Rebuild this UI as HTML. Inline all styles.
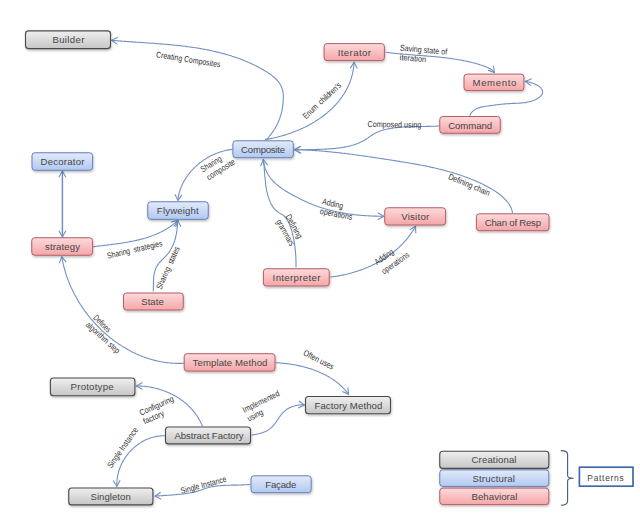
<!DOCTYPE html>
<html><head><meta charset="utf-8">
<style>
html,body{margin:0;padding:0;background:#fff;}
body{width:640px;height:519px;position:relative;overflow:hidden;font-family:"Liberation Sans",sans-serif;}
svg{position:absolute;left:0;top:0;}
path.c{fill:none;stroke:#7290c4;stroke-width:1.1;}
text.l{white-space:pre;font-family:"Liberation Sans",sans-serif;font-size:8.5px;fill:#303030;text-anchor:middle;dominant-baseline:central;}
text.bt{font-family:"Liberation Sans",sans-serif;font-size:9.6px;fill:#464646;text-anchor:middle;}
rect.p{fill:url(#gp);stroke:#b45e66;stroke-width:1;filter:url(#sh);}
rect.u{fill:url(#gu);stroke:#6580b8;stroke-width:1;filter:url(#sh);}
rect.g{fill:url(#gg);stroke:#4a4a4a;stroke-width:1.1;filter:url(#sh);}
</style></head><body>
<svg width="640" height="519" viewBox="0 0 640 519">
<defs>
<linearGradient id="gp" x1="0" y1="0" x2="0" y2="1"><stop offset="0" stop-color="#fcdadb"/><stop offset="1" stop-color="#f5a6a8"/></linearGradient>
<linearGradient id="gu" x1="0" y1="0" x2="0" y2="1"><stop offset="0" stop-color="#e3eafa"/><stop offset="1" stop-color="#b1c9f2"/></linearGradient>
<linearGradient id="gg" x1="0" y1="0" x2="0" y2="1"><stop offset="0" stop-color="#efefef"/><stop offset="1" stop-color="#c6c6c6"/></linearGradient>
<filter id="sh" x="-10%" y="-30%" width="120%" height="170%"><feDropShadow dx="0.6" dy="1.4" stdDeviation="0.9" flood-color="#000" flood-opacity="0.28"/></filter>
</defs>
<path class="c" d="M266.5 139.6 L267.2 138.8 L267.9 138.0 L268.5 137.3 L269.2 136.5 L269.8 135.7 L270.5 134.9 L271.1 134.1 L271.7 133.3 L272.3 132.4 L272.8 131.6 L273.4 130.8 L274.0 130.0 L274.5 129.1 L275.0 128.3 L275.5 127.4 L276.0 126.6 L276.5 125.7 L276.9 124.8 L277.4 123.9 L277.8 123.1 L278.2 122.2 L278.6 121.3 L279.0 120.3 L279.3 119.4 L279.7 118.5 L280.0 117.6 L280.3 116.6 L280.6 115.7 L280.9 114.7 L281.2 113.8 L281.4 112.8 L281.7 111.8 L281.9 110.8 L282.1 109.8 L282.3 108.8 L282.4 107.8 L282.6 106.8 L282.7 105.8 L282.9 104.7 L283.0 103.7 L283.1 102.6 L283.1 101.6 L283.2 100.5 L283.2 99.5 L283.3 98.4 L283.3 97.4 L283.3 96.3 L283.3 95.2 L283.2 94.2 L283.1 93.2 L283.0 92.1 L282.8 91.2 L282.6 90.2 L282.3 89.2 L282.0 88.3 L281.7 87.4 L281.3 86.5 L280.9 85.7 L280.4 84.8 L280.0 84.0 L279.4 83.2 L278.9 82.4 L278.3 81.7 L277.7 80.9 L277.1 80.2 L276.4 79.5 L275.7 78.8 L275.0 78.1 L274.3 77.5 L273.6 76.8 L272.8 76.2 L272.0 75.6 L271.2 74.9 L270.4 74.3 L269.6 73.8 L268.7 73.2 L267.9 72.6 L267.0 72.1 L266.1 71.5 L265.3 71.0 L264.4 70.5 L263.5 69.9 L262.6 69.4 L261.7 68.9 L260.8 68.4 L259.9 67.9 L259.0 67.5 L258.1 67.0 L257.2 66.5 L256.3 66.0 L255.4 65.6 L254.5 65.1 L253.5 64.7 L252.6 64.3 L251.7 63.8 L250.8 63.4 L249.9 63.0 L248.9 62.6 L248.0 62.2 L247.1 61.8 L246.2 61.4 L245.2 61.0 L244.3 60.6 L243.4 60.2 L242.4 59.9 L241.5 59.5 L240.6 59.1 L239.6 58.8 L238.7 58.4 L237.7 58.1 L236.8 57.8 L235.8 57.4 L234.9 57.1 L233.9 56.8 L233.0 56.5 L232.0 56.2 L231.1 55.8 L230.1 55.5 L229.2 55.3 L228.2 55.0 L227.2 54.7 L226.3 54.4 L225.3 54.1 L224.4 53.9 L223.4 53.6 L222.4 53.3 L221.4 53.1 L220.5 52.8 L219.5 52.6 L218.5 52.3 L217.6 52.1 L216.6 51.9 L215.6 51.6 L214.6 51.4 L213.7 51.2 L212.7 51.0 L211.7 50.7 L210.7 50.5 L209.7 50.3 L208.8 50.1 L207.8 49.9 L206.8 49.7 L205.8 49.5 L204.8 49.4 L203.8 49.2 L202.8 49.0 L201.8 48.8 L200.8 48.6 L199.9 48.5 L198.9 48.3 L197.9 48.1 L196.9 48.0 L195.9 47.8 L194.9 47.7 L193.9 47.5 L192.9 47.4 L191.9 47.2 L190.9 47.1 L189.9 47.0 L188.9 46.8 L187.9 46.7 L186.9 46.6 L185.9 46.4 L184.9 46.3 L183.9 46.2 L182.9 46.1 L181.9 45.9 L180.9 45.8 L179.9 45.7 L178.9 45.6 L177.9 45.5 L176.9 45.4 L175.9 45.3 L174.8 45.2 L173.8 45.1 L172.8 45.0 L171.8 44.9 L170.8 44.8 L169.8 44.7 L168.8 44.6 L167.8 44.5 L166.8 44.4 L165.8 44.3 L164.8 44.2 L163.8 44.2 L162.7 44.1 L161.7 44.0 L160.7 43.9 L159.7 43.8 L158.7 43.8 L157.7 43.7 L156.7 43.6 L155.7 43.5 L154.7 43.5 L153.7 43.4 L152.7 43.3 L151.6 43.2 L150.6 43.2 L149.6 43.1 L148.6 43.0 L147.6 43.0 L146.6 42.9 L145.6 42.8 L144.6 42.7 L143.6 42.7 L142.6 42.6 L141.6 42.5 L140.6 42.5 L139.6 42.4 L138.5 42.3 L137.5 42.3 L136.5 42.2 L135.5 42.1 L134.5 42.1 L133.5 42.0 L132.5 41.9 L131.5 41.9 L130.5 41.8 L129.5 41.7 L128.5 41.6 L127.5 41.6 L126.5 41.5 L125.5 41.4 L124.5 41.4 L123.5 41.3 L122.5 41.2 L121.5 41.1 L120.5 41.1 L119.5 41.0 L118.5 40.9 L117.5 40.8 L116.6 40.7 L115.6 40.6 L114.6 40.6 L113.6 40.5 L112.6 40.4 L111.6 40.3"/>
<path class="c" d="M117.89 37.36 L111.60 40.30 L117.26 44.33"/>
<path class="c" d="M264.9 139.6 L265.9 139.4 L266.8 139.3 L267.8 139.1 L268.8 138.9 L269.7 138.8 L270.7 138.6 L271.7 138.4 L272.6 138.2 L273.6 138.0 L274.6 137.7 L275.6 137.5 L276.5 137.3 L277.5 137.0 L278.5 136.8 L279.5 136.5 L280.4 136.3 L281.4 136.0 L282.4 135.7 L283.4 135.4 L284.3 135.2 L285.3 134.9 L286.3 134.6 L287.3 134.2 L288.2 133.9 L289.2 133.6 L290.2 133.2 L291.1 132.9 L292.1 132.6 L293.1 132.2 L294.0 131.8 L295.0 131.5 L295.9 131.1 L296.9 130.7 L297.8 130.3 L298.8 129.9 L299.7 129.5 L300.7 129.1 L301.6 128.6 L302.6 128.2 L303.5 127.8 L304.4 127.3 L305.3 126.9 L306.3 126.4 L307.2 125.9 L308.1 125.4 L309.0 125.0 L309.9 124.5 L310.8 124.0 L311.7 123.5 L312.6 122.9 L313.5 122.4 L314.4 121.9 L315.2 121.4 L316.1 120.8 L317.0 120.3 L317.8 119.7 L318.7 119.1 L319.5 118.6 L320.3 118.0 L321.2 117.4 L322.0 116.8 L322.8 116.2 L323.6 115.6 L324.4 115.0 L325.2 114.3 L326.0 113.7 L326.8 113.1 L327.6 112.4 L328.3 111.7 L329.1 111.1 L329.9 110.4 L330.6 109.7 L331.3 109.0 L332.1 108.4 L332.8 107.7 L333.5 106.9 L334.2 106.2 L334.9 105.5 L335.6 104.8 L336.2 104.0 L336.9 103.3 L337.5 102.5 L338.2 101.8 L338.8 101.0 L339.4 100.2 L340.0 99.4 L340.6 98.7 L341.2 97.9 L341.8 97.1 L342.4 96.2 L342.9 95.4 L343.5 94.6 L344.0 93.8 L344.5 92.9 L345.0 92.1 L345.5 91.2 L346.0 90.4 L346.5 89.5 L347.0 88.6 L347.4 87.7 L347.8 86.8 L348.3 85.9 L348.7 85.0 L349.1 84.1 L349.5 83.2 L349.8 82.3 L350.2 81.4 L350.5 80.4 L350.8 79.5 L351.2 78.5 L351.5 77.6 L351.7 76.6 L352.0 75.6 L352.3 74.6 L352.5 73.6 L352.7 72.6 L352.9 71.6 L353.1 70.6 L353.3 69.6 L353.5 68.6 L353.6 67.6 L353.7 66.5 L353.9 65.5 L354.0 64.4 L354.0 63.4 L354.1 62.3"/>
<path class="c" d="M357.28 68.47 L354.10 62.30 L350.29 68.11"/>
<path class="c" d="M385.6 52.2 L386.6 52.3 L387.6 52.5 L388.5 52.6 L389.5 52.7 L390.5 52.8 L391.5 53.0 L392.5 53.1 L393.5 53.2 L394.5 53.3 L395.5 53.4 L396.5 53.5 L397.5 53.6 L398.5 53.7 L399.5 53.8 L400.5 53.9 L401.5 54.0 L402.5 54.1 L403.5 54.2 L404.5 54.3 L405.5 54.3 L406.5 54.4 L407.6 54.5 L408.6 54.6 L409.6 54.7 L410.6 54.8 L411.6 54.8 L412.6 54.9 L413.6 55.0 L414.7 55.1 L415.7 55.2 L416.7 55.2 L417.7 55.3 L418.7 55.4 L419.8 55.5 L420.8 55.5 L421.8 55.6 L422.8 55.7 L423.8 55.8 L424.9 55.9 L425.9 55.9 L426.9 56.0 L427.9 56.1 L428.9 56.2 L430.0 56.3 L431.0 56.4 L432.0 56.5 L433.0 56.5 L434.1 56.6 L435.1 56.7 L436.1 56.8 L437.1 56.9 L438.1 57.0 L439.2 57.1 L440.2 57.2 L441.2 57.3 L442.2 57.5 L443.2 57.6 L444.2 57.7 L445.2 57.8 L446.3 57.9 L447.3 58.0 L448.3 58.2 L449.3 58.3 L450.3 58.4 L451.3 58.6 L452.3 58.7 L453.3 58.9 L454.3 59.0 L455.3 59.2 L456.3 59.3 L457.3 59.5 L458.3 59.7 L459.3 59.8 L460.3 60.0 L461.3 60.2 L462.3 60.4 L463.3 60.6 L464.3 60.8 L465.3 61.0 L466.3 61.2 L467.3 61.4 L468.2 61.6 L469.2 61.8 L470.2 62.1 L471.2 62.3 L472.1 62.5 L473.1 62.8 L474.1 63.0 L475.1 63.3 L476.0 63.6 L477.0 63.8 L477.9 64.1 L478.9 64.4 L479.9 64.7 L480.8 65.0 L481.8 65.3 L482.7 65.6 L483.6 65.9 L484.6 66.3 L485.5 66.6 L486.4 67.0 L487.3 67.4 L488.2 67.8 L489.1 68.3 L490.0 68.7 L490.8 69.3 L491.6 69.8 L492.4 70.4 L493.1 71.1 L493.8 71.8 L494.5 72.6"/>
<path class="c" d="M488.01 70.13 L494.50 72.60 L493.45 65.73"/>
<path class="c" d="M469.8 115.8 L470.2 114.8 L470.7 113.8 L471.3 112.9 L471.9 112.1 L472.6 111.4 L473.3 110.7 L474.0 110.1 L474.8 109.6 L475.7 109.1 L476.6 108.7 L477.5 108.3 L478.4 107.9 L479.4 107.6 L480.4 107.3 L481.4 107.1 L482.5 106.9 L483.5 106.7 L484.5 106.5 L485.6 106.3 L486.6 106.2 L487.7 106.0 L488.7 105.9 L489.7 105.7 L490.7 105.6 L491.8 105.5 L492.8 105.3 L493.8 105.2 L494.7 105.1 L495.7 104.9 L496.7 104.8 L497.7 104.7 L498.7 104.6 L499.7 104.5 L500.6 104.3 L501.6 104.2 L502.6 104.1 L503.6 104.0 L504.6 103.9 L505.6 103.9 L506.6 103.8 L507.6 103.7 L508.6 103.6 L509.6 103.6 L510.6 103.5 L511.6 103.5 L512.7 103.4 L513.7 103.4 L514.8 103.4 L515.8 103.3 L516.9 103.3 L517.9 103.2 L518.9 103.2 L520.0 103.1 L521.0 103.0 L522.1 102.9 L523.1 102.8 L524.1 102.7 L525.2 102.6 L526.2 102.4 L527.2 102.2 L528.2 102.0 L529.2 101.8 L530.2 101.6 L531.1 101.3 L532.1 101.0 L533.1 100.7 L534.0 100.3 L534.9 99.9 L535.8 99.5 L536.7 99.0 L537.6 98.5 L538.4 97.9 L539.2 97.3 L540.0 96.7 L540.7 96.0 L541.4 95.3 L541.9 94.6 L542.3 93.8 L542.6 93.0 L542.6 92.1 L542.5 91.2 L542.3 90.4 L541.9 89.5 L541.4 88.7 L540.8 87.9 L540.0 87.2 L539.2 86.5 L538.3 85.9 L537.4 85.3 L536.3 84.7 L535.3 84.2 L534.2 83.7 L533.1 83.3 L532.0 82.9 L530.9 82.6 L529.9 82.3 L528.9 82.0 L527.9 81.8 L527.0 81.6 L526.1 81.4 L525.4 81.3"/>
<path class="c" d="M531.87 78.76 L525.40 81.30 L530.79 85.68"/>
<path class="c" d="M438.9 125.9 L437.9 126.0 L436.9 126.0 L436.0 126.1 L435.0 126.2 L434.0 126.2 L433.0 126.3 L432.0 126.3 L431.0 126.3 L430.0 126.4 L429.0 126.4 L428.0 126.4 L427.0 126.4 L426.0 126.4 L425.0 126.5 L424.0 126.5 L422.9 126.5 L421.9 126.5 L420.9 126.5 L419.9 126.5 L418.9 126.5 L417.8 126.5 L416.8 126.5 L415.8 126.6 L414.8 126.6 L413.7 126.6 L412.7 126.6 L411.7 126.6 L410.7 126.7 L409.6 126.7 L408.6 126.7 L407.6 126.8 L406.6 126.8 L405.5 126.9 L404.5 126.9 L403.5 127.0 L402.5 127.0 L401.5 127.1 L400.4 127.2 L399.4 127.3 L398.4 127.4 L397.4 127.5 L396.4 127.6 L395.4 127.7 L394.4 127.8 L393.4 128.0 L392.4 128.1 L391.4 128.3 L390.4 128.5 L389.4 128.6 L388.4 128.8 L387.4 129.0 L386.4 129.3 L385.4 129.5 L384.5 129.7 L383.5 130.0 L382.5 130.3 L381.6 130.6 L380.6 130.9 L379.7 131.2 L378.8 131.6 L377.8 132.0 L376.9 132.3 L376.0 132.8 L375.1 133.2 L374.2 133.7 L373.4 134.2 L372.5 134.7 L371.7 135.2 L370.8 135.8 L370.0 136.4 L369.2 137.0 L368.4 137.5 L367.6 138.1 L366.7 138.7 L365.9 139.2 L365.1 139.8 L364.2 140.3 L363.3 140.8 L362.5 141.3 L361.6 141.7 L360.7 142.1 L359.8 142.6 L358.9 143.0 L358.0 143.3 L357.0 143.7 L356.1 144.0 L355.2 144.4 L354.2 144.7 L353.3 145.0 L352.3 145.3 L351.3 145.5 L350.4 145.8 L349.4 146.1 L348.4 146.3 L347.4 146.5 L346.5 146.7 L345.5 146.9 L344.5 147.1 L343.5 147.3 L342.5 147.4 L341.5 147.6 L340.5 147.7 L339.5 147.9 L338.5 148.0 L337.5 148.1 L336.5 148.2 L335.4 148.4 L334.4 148.5 L333.4 148.6 L332.4 148.6 L331.4 148.7 L330.4 148.8 L329.4 148.9 L328.4 149.0 L327.3 149.0 L326.3 149.1 L325.3 149.1 L324.3 149.2 L323.3 149.2 L322.3 149.3 L321.3 149.3 L320.2 149.3 L319.2 149.4 L318.2 149.4 L317.2 149.4 L316.2 149.5 L315.2 149.5 L314.1 149.5 L313.1 149.5 L312.1 149.6 L311.1 149.6 L310.1 149.6 L309.1 149.6 L308.1 149.6 L307.0 149.7 L306.0 149.7 L305.0 149.7 L304.0 149.7 L303.0 149.7 L302.0 149.8 L301.0 149.8 L300.0 149.8 L299.0 149.9 L298.0 149.9 L297.0 149.9 L296.0 150.0 L295.0 150.0"/>
<path class="c" d="M300.84 146.24 L295.00 150.00 L301.15 153.23"/>
<path class="c" d="M512.5 213.0 L512.3 212.0 L512.1 211.0 L511.9 210.0 L511.5 209.1 L511.2 208.1 L510.8 207.2 L510.4 206.3 L509.9 205.5 L509.4 204.6 L508.8 203.8 L508.3 203.0 L507.7 202.2 L507.0 201.5 L506.4 200.7 L505.7 200.0 L505.0 199.3 L504.3 198.6 L503.6 197.9 L502.9 197.2 L502.1 196.5 L501.4 195.9 L500.6 195.2 L499.8 194.6 L499.0 194.0 L498.2 193.4 L497.4 192.8 L496.6 192.2 L495.8 191.6 L494.9 191.1 L494.1 190.5 L493.2 190.0 L492.3 189.4 L491.5 188.9 L490.6 188.4 L489.7 187.9 L488.8 187.4 L487.9 186.9 L487.0 186.4 L486.1 185.9 L485.2 185.5 L484.3 185.0 L483.4 184.5 L482.5 184.1 L481.6 183.7 L480.6 183.2 L479.7 182.8 L478.8 182.4 L477.9 181.9 L476.9 181.5 L476.0 181.1 L475.1 180.7 L474.1 180.3 L473.2 179.9 L472.3 179.6 L471.3 179.2 L470.4 178.8 L469.5 178.4 L468.5 178.1 L467.6 177.7 L466.6 177.4 L465.7 177.0 L464.7 176.7 L463.8 176.3 L462.9 176.0 L461.9 175.7 L461.0 175.3 L460.0 175.0 L459.0 174.7 L458.1 174.4 L457.1 174.1 L456.2 173.8 L455.2 173.5 L454.3 173.2 L453.3 172.9 L452.4 172.6 L451.4 172.3 L450.4 172.0 L449.5 171.7 L448.5 171.5 L447.5 171.2 L446.6 170.9 L445.6 170.7 L444.6 170.4 L443.7 170.2 L442.7 169.9 L441.7 169.7 L440.8 169.4 L439.8 169.2 L438.8 169.0 L437.8 168.7 L436.9 168.5 L435.9 168.3 L434.9 168.0 L433.9 167.8 L433.0 167.6 L432.0 167.4 L431.0 167.2 L430.0 166.9 L429.0 166.7 L428.1 166.5 L427.1 166.3 L426.1 166.1 L425.1 165.9 L424.1 165.7 L423.1 165.5 L422.2 165.3 L421.2 165.2 L420.2 165.0 L419.2 164.8 L418.2 164.6 L417.2 164.4 L416.2 164.2 L415.3 164.1 L414.3 163.9 L413.3 163.7 L412.3 163.5 L411.3 163.4 L410.3 163.2 L409.3 163.0 L408.3 162.9 L407.3 162.7 L406.3 162.5 L405.4 162.4 L404.4 162.2 L403.4 162.0 L402.4 161.9 L401.4 161.7 L400.4 161.6 L399.4 161.4 L398.4 161.2 L397.4 161.1 L396.4 160.9 L395.4 160.8 L394.4 160.6 L393.4 160.5 L392.4 160.3 L391.4 160.1 L390.4 160.0 L389.4 159.8 L388.4 159.7 L387.4 159.5 L386.4 159.4 L385.5 159.2 L384.5 159.1 L383.5 158.9 L382.5 158.8 L381.5 158.6 L380.5 158.5 L379.5 158.3 L378.5 158.2 L377.5 158.0 L376.5 157.9 L375.5 157.7 L374.5 157.6 L373.5 157.4 L372.5 157.3 L371.5 157.1 L370.5 157.0 L369.5 156.8 L368.5 156.7 L367.5 156.5 L366.5 156.4 L365.5 156.2 L364.5 156.1 L363.5 156.0 L362.5 155.8 L361.5 155.7 L360.5 155.5 L359.5 155.4 L358.5 155.2 L357.5 155.1 L356.5 155.0 L355.5 154.8 L354.5 154.7 L353.5 154.6 L352.5 154.4 L351.5 154.3 L350.5 154.2 L349.5 154.0 L348.5 153.9 L347.5 153.8 L346.5 153.7 L345.5 153.5 L344.5 153.4 L343.5 153.3 L342.5 153.2 L341.5 153.1 L340.5 152.9 L339.5 152.8 L338.5 152.7 L337.5 152.6 L336.5 152.5 L335.5 152.4 L334.5 152.3 L333.5 152.2 L332.5 152.1 L331.5 152.0 L330.5 151.9 L329.5 151.8 L328.5 151.7 L327.5 151.6 L326.5 151.5 L325.5 151.4 L324.5 151.3 L323.5 151.2 L322.5 151.1 L321.5 151.0 L320.5 151.0 L319.5 150.9 L318.5 150.8 L317.5 150.7 L316.5 150.6 L315.5 150.6 L314.5 150.5 L313.5 150.4 L312.5 150.4 L311.5 150.3 L310.5 150.2 L309.5 150.2 L308.5 150.1 L307.5 150.1 L306.5 150.0 L305.5 150.0 L304.4 149.9 L303.4 149.9 L302.4 149.8 L301.4 149.8 L300.4 149.8 L299.4 149.7 L298.4 149.7 L297.4 149.7 L296.4 149.6 L295.4 149.6 L294.4 149.6"/>
<path class="c" d="M300.47 146.22 L294.40 149.60 L300.33 153.21"/>
<path class="c" d="M263.3 159.6 L263.4 160.7 L263.5 161.8 L263.7 162.9 L263.9 163.9 L264.1 164.9 L264.4 165.9 L264.7 166.9 L265.0 167.9 L265.3 168.9 L265.7 169.8 L266.1 170.7 L266.5 171.6 L267.0 172.5 L267.5 173.4 L267.9 174.3 L268.5 175.1 L269.0 175.9 L269.6 176.7 L270.1 177.5 L270.7 178.3 L271.4 179.1 L272.0 179.8 L272.7 180.6 L273.3 181.3 L274.0 182.0 L274.7 182.7 L275.5 183.4 L276.2 184.1 L277.0 184.7 L277.7 185.4 L278.5 186.0 L279.3 186.6 L280.1 187.2 L280.9 187.8 L281.7 188.4 L282.6 189.0 L283.4 189.6 L284.3 190.1 L285.1 190.7 L286.0 191.2 L286.9 191.7 L287.7 192.3 L288.6 192.8 L289.5 193.3 L290.4 193.8 L291.3 194.3 L292.2 194.7 L293.1 195.2 L294.0 195.7 L294.9 196.2 L295.8 196.7 L296.7 197.1 L297.6 197.6 L298.5 198.1 L299.4 198.5 L300.3 199.0 L301.2 199.4 L302.2 199.9 L303.1 200.3 L304.0 200.8 L304.9 201.2 L305.8 201.6 L306.7 202.0 L307.7 202.5 L308.6 202.9 L309.5 203.3 L310.5 203.7 L311.4 204.0 L312.3 204.4 L313.3 204.8 L314.2 205.2 L315.2 205.5 L316.1 205.9 L317.0 206.2 L318.0 206.6 L319.0 206.9 L319.9 207.2 L320.9 207.5 L321.8 207.8 L322.8 208.1 L323.8 208.4 L324.7 208.7 L325.7 209.0 L326.7 209.3 L327.6 209.6 L328.6 209.8 L329.6 210.1 L330.6 210.4 L331.5 210.6 L332.5 210.8 L333.5 211.1 L334.5 211.3 L335.5 211.5 L336.5 211.7 L337.4 212.0 L338.4 212.2 L339.4 212.4 L340.4 212.6 L341.4 212.7 L342.4 212.9 L343.4 213.1 L344.4 213.3 L345.4 213.4 L346.4 213.6 L347.4 213.7 L348.4 213.9 L349.4 214.0 L350.4 214.2 L351.4 214.3 L352.4 214.4 L353.4 214.6 L354.4 214.7 L355.4 214.8 L356.5 214.9 L357.5 215.0 L358.5 215.1 L359.5 215.2 L360.5 215.3 L361.5 215.4 L362.5 215.5 L363.5 215.5 L364.5 215.6 L365.6 215.7 L366.6 215.7 L367.6 215.8 L368.6 215.9 L369.6 215.9 L370.6 216.0 L371.6 216.0 L372.7 216.0 L373.7 216.1 L374.7 216.1 L375.7 216.1 L376.7 216.1 L377.7 216.2 L378.7 216.2 L379.8 216.2 L380.8 216.2 L381.8 216.2 L382.8 216.2 L383.8 216.2"/>
<path class="c" d="M377.82 219.73 L383.80 216.20 L377.78 212.73"/>
<path class="c" d="M296.0 267.3 L296.0 266.3 L296.0 265.3 L296.0 264.2 L296.0 263.2 L296.0 262.2 L296.0 261.2 L295.9 260.2 L295.9 259.2 L295.9 258.2 L295.8 257.2 L295.8 256.2 L295.7 255.1 L295.6 254.1 L295.6 253.1 L295.5 252.1 L295.4 251.1 L295.3 250.1 L295.2 249.1 L295.1 248.1 L295.0 247.1 L294.8 246.1 L294.7 245.1 L294.6 244.1 L294.4 243.1 L294.2 242.1 L294.1 241.1 L293.9 240.1 L293.7 239.1 L293.5 238.1 L293.3 237.2 L293.1 236.2 L292.8 235.2 L292.6 234.2 L292.3 233.2 L292.1 232.2 L291.8 231.2 L291.5 230.2 L291.2 229.2 L290.9 228.3 L290.6 227.3 L290.2 226.3 L289.9 225.3 L289.5 224.4 L289.1 223.5 L288.7 222.5 L288.2 221.7 L287.7 220.8 L287.2 219.9 L286.7 219.1 L286.1 218.3 L285.5 217.6 L284.9 216.8 L284.2 216.2 L283.5 215.5 L282.7 214.9 L281.9 214.4 L281.1 213.9 L280.2 213.4 L279.3 212.9 L278.5 212.4 L277.7 211.8 L276.9 211.3 L276.1 210.6 L275.4 210.0 L274.7 209.2 L274.0 208.5 L273.4 207.7 L272.8 206.9 L272.3 206.0 L271.7 205.1 L271.3 204.2 L270.8 203.3 L270.4 202.4 L270.0 201.4 L269.6 200.5 L269.2 199.5 L268.9 198.6 L268.5 197.6 L268.2 196.6 L267.9 195.6 L267.7 194.7 L267.4 193.7 L267.2 192.7 L267.0 191.7 L266.7 190.7 L266.5 189.8 L266.4 188.8 L266.2 187.8 L266.0 186.8 L265.9 185.8 L265.7 184.8 L265.6 183.8 L265.5 182.8 L265.4 181.8 L265.3 180.8 L265.2 179.8 L265.1 178.8 L265.0 177.7 L264.9 176.7 L264.8 175.7 L264.7 174.7 L264.6 173.7 L264.6 172.7 L264.5 171.7 L264.4 170.7 L264.3 169.7 L264.2 168.7 L264.2 167.6 L264.1 166.6 L264.0 165.6 L263.9 164.6 L263.8 163.6 L263.7 162.6 L263.6 161.6 L263.4 160.6 L263.3 159.6"/>
<path class="c" d="M267.58 165.07 L263.30 159.60 L260.64 166.02"/>
<path class="c" d="M330.5 277.0 L331.5 276.9 L332.5 276.8 L333.5 276.6 L334.5 276.5 L335.4 276.4 L336.4 276.2 L337.4 276.1 L338.4 275.9 L339.4 275.7 L340.4 275.5 L341.4 275.3 L342.4 275.1 L343.4 274.9 L344.4 274.7 L345.4 274.5 L346.4 274.3 L347.4 274.0 L348.3 273.8 L349.3 273.5 L350.3 273.3 L351.3 273.0 L352.3 272.7 L353.3 272.4 L354.3 272.1 L355.2 271.8 L356.2 271.5 L357.2 271.2 L358.2 270.9 L359.1 270.6 L360.1 270.2 L361.1 269.9 L362.0 269.5 L363.0 269.2 L364.0 268.8 L364.9 268.4 L365.9 268.0 L366.8 267.6 L367.8 267.2 L368.7 266.8 L369.6 266.4 L370.6 266.0 L371.5 265.5 L372.4 265.1 L373.4 264.6 L374.3 264.2 L375.2 263.7 L376.1 263.3 L377.0 262.8 L377.9 262.3 L378.8 261.8 L379.7 261.3 L380.6 260.8 L381.5 260.3 L382.4 259.7 L383.2 259.2 L384.1 258.7 L385.0 258.1 L385.8 257.5 L386.7 257.0 L387.5 256.4 L388.4 255.8 L389.2 255.2 L390.0 254.6 L390.8 254.0 L391.7 253.4 L392.5 252.8 L393.3 252.2 L394.1 251.5 L394.8 250.9 L395.6 250.3 L396.4 249.6 L397.2 248.9 L397.9 248.3 L398.7 247.6 L399.4 246.9 L400.1 246.2 L400.9 245.5 L401.6 244.8 L402.3 244.1 L403.0 243.3 L403.7 242.6 L404.4 241.9 L405.0 241.1 L405.7 240.3 L406.4 239.6 L407.0 238.8 L407.7 238.0 L408.3 237.2 L408.9 236.4 L409.5 235.6 L410.1 234.8 L410.7 234.0 L411.3 233.2 L411.9 232.3 L412.4 231.5 L413.0 230.7 L413.5 229.8 L414.1 228.9 L414.6 228.1 L415.1 227.2 L415.6 226.3"/>
<path class="c" d="M415.75 233.24 L415.60 226.30 L409.63 229.85"/>
<path class="c" d="M232.6 149.4 L231.6 149.5 L230.6 149.6 L229.6 149.8 L228.6 149.9 L227.6 150.1 L226.7 150.3 L225.7 150.5 L224.7 150.7 L223.7 151.0 L222.7 151.2 L221.7 151.5 L220.8 151.8 L219.8 152.1 L218.8 152.4 L217.9 152.8 L216.9 153.2 L216.0 153.5 L215.0 153.9 L214.1 154.3 L213.1 154.8 L212.2 155.2 L211.3 155.6 L210.4 156.1 L209.4 156.6 L208.5 157.1 L207.6 157.6 L206.7 158.1 L205.9 158.7 L205.0 159.2 L204.1 159.8 L203.3 160.4 L202.4 161.0 L201.6 161.6 L200.7 162.2 L199.9 162.8 L199.1 163.5 L198.3 164.1 L197.5 164.8 L196.7 165.5 L196.0 166.2 L195.2 166.9 L194.5 167.6 L193.7 168.3 L193.0 169.1 L192.3 169.8 L191.6 170.6 L190.9 171.3 L190.3 172.1 L189.6 172.9 L189.0 173.7 L188.4 174.5 L187.8 175.4 L187.2 176.2 L186.6 177.0 L186.0 177.9 L185.5 178.7 L184.9 179.6 L184.4 180.5 L183.9 181.4 L183.4 182.2 L183.0 183.1 L182.5 184.1 L182.1 185.0 L181.7 185.9 L181.3 186.8 L180.9 187.8 L180.6 188.7 L180.2 189.6 L179.9 190.6 L179.6 191.6 L179.3 192.5 L179.1 193.5 L178.9 194.5 L178.6 195.5 L178.4 196.5 L178.3 197.5 L178.1 198.5 L178.0 199.5 L177.9 200.5"/>
<path class="c" d="M174.96 194.21 L177.90 200.50 L181.93 194.84"/>
<path class="c" d="M93.1 246.7 L94.1 246.6 L95.1 246.5 L96.0 246.3 L97.0 246.2 L98.0 246.1 L99.0 246.0 L100.0 245.9 L101.0 245.8 L102.0 245.7 L103.0 245.5 L104.0 245.4 L105.0 245.3 L106.0 245.2 L107.0 245.1 L108.0 244.9 L109.0 244.8 L110.1 244.7 L111.1 244.6 L112.1 244.4 L113.1 244.3 L114.1 244.2 L115.1 244.0 L116.1 243.9 L117.2 243.8 L118.2 243.6 L119.2 243.5 L120.2 243.3 L121.2 243.2 L122.2 243.0 L123.2 242.9 L124.3 242.7 L125.3 242.5 L126.3 242.4 L127.3 242.2 L128.3 242.0 L129.3 241.8 L130.3 241.6 L131.3 241.4 L132.3 241.2 L133.3 241.0 L134.3 240.8 L135.3 240.6 L136.3 240.4 L137.3 240.1 L138.3 239.9 L139.3 239.7 L140.3 239.4 L141.3 239.2 L142.3 238.9 L143.2 238.6 L144.2 238.3 L145.2 238.1 L146.2 237.8 L147.1 237.5 L148.1 237.2 L149.0 236.8 L150.0 236.5 L150.9 236.2 L151.9 235.8 L152.8 235.5 L153.8 235.1 L154.7 234.7 L155.6 234.4 L156.6 234.0 L157.5 233.6 L158.4 233.2 L159.3 232.7 L160.2 232.3 L161.1 231.9 L162.0 231.4 L162.9 231.0 L163.8 230.5 L164.6 230.0 L165.5 229.5 L166.4 229.0 L167.2 228.5 L168.1 228.0 L168.9 227.4 L169.8 226.9 L170.6 226.3 L171.4 225.7 L172.3 225.1 L173.1 224.5 L173.9 223.9 L174.7 223.3 L175.5 222.6 L176.3 222.0 L177.0 221.3 L177.8 220.6"/>
<path class="c" d="M175.70 227.22 L177.80 220.60 L171.00 222.03"/>
<path class="c" d="M153.3 291.5 L153.3 290.6 L153.4 289.6 L153.4 288.6 L153.4 287.6 L153.4 286.6 L153.4 285.6 L153.4 284.5 L153.4 283.4 L153.4 282.4 L153.5 281.3 L153.5 280.2 L153.6 279.1 L153.6 278.1 L153.7 277.0 L153.9 276.0 L154.0 274.9 L154.2 273.9 L154.4 272.9 L154.7 271.9 L155.0 270.9 L155.3 269.9 L155.6 269.0 L156.0 268.0 L156.4 267.1 L156.9 266.3 L157.4 265.4 L157.9 264.6 L158.5 263.8 L159.1 263.0 L159.8 262.2 L160.5 261.5 L161.2 260.8 L161.9 260.0 L162.6 259.3 L163.3 258.6 L164.0 257.9 L164.8 257.2 L165.5 256.5 L166.2 255.7 L166.9 255.0 L167.5 254.2 L168.2 253.4 L168.8 252.6 L169.3 251.8 L169.9 251.0 L170.4 250.1 L170.9 249.3 L171.4 248.4 L171.9 247.5 L172.3 246.6 L172.8 245.7 L173.2 244.7 L173.5 243.8 L173.9 242.9 L174.2 241.9 L174.6 240.9 L174.9 240.0 L175.2 239.0 L175.4 238.0 L175.7 237.0 L175.9 236.0 L176.1 235.0 L176.3 233.9 L176.5 232.9 L176.7 231.9 L176.9 230.9 L177.0 229.8 L177.1 228.8 L177.3 227.8 L177.4 226.8 L177.5 225.7 L177.6 224.7 L177.6 223.7 L177.7 222.6 L177.8 221.6 L177.8 220.6"/>
<path class="c" d="M181.04 226.74 L177.80 220.60 L174.05 226.44"/>
<path class="c" d="M184.0 363.3 L183.0 363.3 L181.9 363.4 L180.9 363.4 L179.9 363.4 L178.9 363.4 L177.8 363.4 L176.8 363.4 L175.8 363.4 L174.8 363.3 L173.7 363.3 L172.7 363.2 L171.7 363.1 L170.7 363.0 L169.7 363.0 L168.7 362.8 L167.7 362.7 L166.7 362.6 L165.7 362.5 L164.7 362.3 L163.7 362.2 L162.7 362.0 L161.7 361.8 L160.7 361.7 L159.7 361.5 L158.7 361.3 L157.7 361.1 L156.7 360.8 L155.8 360.6 L154.8 360.4 L153.8 360.1 L152.8 359.8 L151.9 359.6 L150.9 359.3 L150.0 359.0 L149.0 358.7 L148.0 358.4 L147.1 358.1 L146.1 357.8 L145.2 357.4 L144.2 357.1 L143.3 356.8 L142.4 356.4 L141.4 356.0 L140.5 355.7 L139.6 355.3 L138.6 354.9 L137.7 354.5 L136.8 354.1 L135.9 353.7 L135.0 353.2 L134.1 352.8 L133.1 352.4 L132.2 351.9 L131.3 351.5 L130.5 351.0 L129.6 350.5 L128.7 350.0 L127.8 349.6 L126.9 349.1 L126.0 348.6 L125.2 348.0 L124.3 347.5 L123.4 347.0 L122.6 346.5 L121.7 345.9 L120.9 345.4 L120.0 344.8 L119.2 344.3 L118.3 343.7 L117.5 343.1 L116.7 342.6 L115.8 342.0 L115.0 341.4 L114.2 340.8 L113.4 340.2 L112.6 339.5 L111.8 338.9 L111.0 338.3 L110.2 337.7 L109.4 337.0 L108.6 336.4 L107.8 335.7 L107.0 335.1 L106.3 334.4 L105.5 333.7 L104.7 333.0 L104.0 332.4 L103.2 331.7 L102.5 331.0 L101.7 330.3 L101.0 329.6 L100.3 328.9 L99.5 328.1 L98.8 327.4 L98.1 326.7 L97.4 326.0 L96.7 325.2 L96.0 324.5 L95.3 323.7 L94.6 323.0 L93.9 322.2 L93.2 321.4 L92.6 320.7 L91.9 319.9 L91.2 319.1 L90.6 318.3 L89.9 317.5 L89.3 316.8 L88.6 316.0 L88.0 315.2 L87.4 314.3 L86.8 313.5 L86.2 312.7 L85.5 311.9 L84.9 311.1 L84.3 310.2 L83.8 309.4 L83.2 308.6 L82.6 307.7 L82.0 306.9 L81.5 306.0 L80.9 305.2 L80.3 304.3 L79.8 303.5 L79.3 302.6 L78.7 301.7 L78.2 300.9 L77.7 300.0 L77.2 299.1 L76.7 298.2 L76.2 297.3 L75.7 296.4 L75.2 295.6 L74.7 294.7 L74.2 293.8 L73.8 292.9 L73.3 291.9 L72.9 291.0 L72.4 290.1 L72.0 289.2 L71.6 288.3 L71.1 287.4 L70.7 286.5 L70.3 285.5 L69.9 284.6 L69.5 283.7 L69.2 282.7 L68.8 281.8 L68.4 280.9 L68.1 279.9 L67.7 279.0 L67.4 278.0 L67.0 277.1 L66.7 276.1 L66.4 275.2 L66.0 274.2 L65.7 273.3 L65.4 272.3 L65.2 271.4 L64.9 270.4 L64.6 269.4 L64.3 268.5 L64.1 267.5 L63.8 266.5 L63.6 265.6 L63.4 264.6 L63.1 263.6 L62.9 262.7 L62.7 261.7 L62.5 260.7 L62.3 259.7 L62.1 258.8 L62.0 257.8 L61.8 256.8"/>
<path class="c" d="M66.22 262.16 L61.80 256.80 L59.31 263.28"/>
<path class="c" d="M275.6 362.6 L276.6 362.7 L277.6 362.7 L278.5 362.8 L279.5 362.9 L280.5 363.0 L281.5 363.1 L282.5 363.2 L283.5 363.3 L284.5 363.4 L285.5 363.5 L286.5 363.6 L287.5 363.7 L288.5 363.9 L289.5 364.0 L290.5 364.2 L291.5 364.3 L292.5 364.5 L293.6 364.7 L294.6 364.8 L295.6 365.0 L296.6 365.2 L297.6 365.4 L298.6 365.6 L299.6 365.9 L300.6 366.1 L301.6 366.3 L302.6 366.6 L303.6 366.8 L304.6 367.1 L305.6 367.3 L306.6 367.6 L307.6 367.9 L308.5 368.2 L309.5 368.5 L310.5 368.8 L311.5 369.1 L312.5 369.5 L313.4 369.8 L314.4 370.2 L315.3 370.5 L316.3 370.9 L317.3 371.3 L318.2 371.6 L319.1 372.0 L320.1 372.4 L321.0 372.9 L321.9 373.3 L322.8 373.7 L323.8 374.2 L324.7 374.6 L325.6 375.1 L326.5 375.6 L327.3 376.0 L328.2 376.5 L329.1 377.0 L330.0 377.6 L330.8 378.1 L331.7 378.6 L332.5 379.2 L333.3 379.7 L334.2 380.3 L335.0 380.9 L335.8 381.5 L336.6 382.1 L337.4 382.7 L338.2 383.4 L338.9 384.0 L339.7 384.7 L340.4 385.3 L341.2 386.0 L341.9 386.7 L342.6 387.4 L343.3 388.1 L344.0 388.8 L344.7 389.6 L345.4 390.3 L346.1 391.1 L346.7 391.9 L347.4 392.7 L348.0 393.5 L348.6 394.3"/>
<path class="c" d="M342.22 391.55 L348.60 394.30 L347.85 387.39"/>
<path class="c" d="M202.4 426.3 L202.0 425.3 L201.6 424.4 L201.2 423.4 L200.8 422.5 L200.3 421.6 L199.8 420.7 L199.3 419.8 L198.8 418.9 L198.3 418.0 L197.8 417.1 L197.2 416.3 L196.7 415.4 L196.1 414.6 L195.5 413.7 L194.9 412.9 L194.3 412.1 L193.6 411.3 L193.0 410.6 L192.3 409.8 L191.6 409.0 L190.9 408.3 L190.2 407.5 L189.5 406.8 L188.8 406.1 L188.0 405.4 L187.3 404.7 L186.5 404.0 L185.8 403.4 L185.0 402.7 L184.2 402.1 L183.4 401.4 L182.5 400.8 L181.7 400.2 L180.9 399.6 L180.0 399.0 L179.2 398.5 L178.3 397.9 L177.5 397.4 L176.6 396.8 L175.7 396.3 L174.8 395.8 L173.9 395.3 L173.0 394.8 L172.1 394.3 L171.1 393.9 L170.2 393.4 L169.3 393.0 L168.3 392.6 L167.4 392.2 L166.4 391.8 L165.5 391.4 L164.5 391.0 L163.5 390.7 L162.5 390.3 L161.6 390.0 L160.6 389.7 L159.6 389.3 L158.6 389.1 L157.6 388.8 L156.6 388.5 L155.6 388.3 L154.6 388.0 L153.6 387.8 L152.6 387.6 L151.6 387.4 L150.6 387.2 L149.6 387.0 L148.5 386.8 L147.5 386.7 L146.5 386.6 L145.5 386.4 L144.5 386.3 L143.5 386.3 L142.5 386.2 L141.4 386.1 L140.4 386.1 L139.4 386.0 L138.4 386.0 L137.4 386.0 L136.4 386.0"/>
<path class="c" d="M142.35 382.42 L136.40 386.00 L142.45 389.42"/>
<path class="c" d="M165.0 435.8 L164.0 435.8 L162.9 435.8 L161.9 435.8 L160.8 435.9 L159.8 436.0 L158.8 436.1 L157.8 436.2 L156.8 436.4 L155.8 436.6 L154.8 436.8 L153.8 437.0 L152.8 437.3 L151.8 437.5 L150.8 437.8 L149.9 438.2 L148.9 438.5 L148.0 438.9 L147.0 439.3 L146.1 439.7 L145.2 440.1 L144.3 440.6 L143.4 441.0 L142.5 441.5 L141.6 442.0 L140.7 442.6 L139.9 443.1 L139.0 443.7 L138.2 444.3 L137.4 444.9 L136.6 445.5 L135.8 446.1 L135.0 446.8 L134.2 447.4 L133.4 448.1 L132.7 448.8 L131.9 449.5 L131.2 450.3 L130.5 451.0 L129.8 451.7 L129.1 452.5 L128.5 453.3 L127.8 454.1 L127.2 454.9 L126.6 455.7 L126.0 456.6 L125.4 457.4 L124.8 458.3 L124.3 459.1 L123.7 460.0 L123.2 460.9 L122.7 461.8 L122.3 462.7 L121.8 463.6 L121.3 464.5 L120.9 465.4 L120.5 466.4 L120.1 467.3 L119.8 468.3 L119.4 469.2 L119.1 470.2 L118.8 471.2 L118.5 472.2 L118.3 473.2 L118.0 474.1 L117.8 475.1 L117.6 476.1 L117.4 477.1 L117.3 478.1 L117.1 479.2 L117.0 480.2 L117.0 481.2 L116.9 482.2 L116.9 483.2 L116.8 484.3 L116.9 485.3 L116.9 486.3"/>
<path class="c" d="M113.10 480.48 L116.90 486.30 L120.10 480.13"/>
<path class="c" d="M250.3 484.4 L249.3 484.5 L248.3 484.6 L247.3 484.7 L246.3 484.7 L245.3 484.8 L244.3 484.8 L243.3 484.9 L242.3 484.9 L241.2 485.0 L240.2 485.0 L239.2 485.0 L238.2 485.0 L237.1 485.1 L236.1 485.1 L235.1 485.1 L234.1 485.1 L233.0 485.1 L232.0 485.1 L231.0 485.2 L229.9 485.2 L228.9 485.2 L227.9 485.2 L226.8 485.3 L225.8 485.3 L224.8 485.4 L223.8 485.4 L222.7 485.5 L221.7 485.5 L220.7 485.6 L219.7 485.7 L218.7 485.8 L217.6 485.9 L216.6 486.0 L215.6 486.2 L214.6 486.3 L213.6 486.5 L212.6 486.6 L211.7 486.8 L210.7 487.0 L209.7 487.2 L208.7 487.5 L207.8 487.7 L206.8 488.0 L205.8 488.3 L204.9 488.6 L203.9 488.9 L203.0 489.2 L202.1 489.5 L201.1 489.9 L200.2 490.2 L199.2 490.5 L198.3 490.9 L197.3 491.2 L196.4 491.4 L195.4 491.7 L194.4 491.9 L193.5 492.2 L192.5 492.4 L191.5 492.6 L190.5 492.8 L189.5 493.0 L188.5 493.2 L187.5 493.3 L186.5 493.5 L185.5 493.6 L184.5 493.7 L183.5 493.9 L182.5 494.0 L181.4 494.1 L180.4 494.2 L179.4 494.3 L178.4 494.4 L177.4 494.5 L176.4 494.6 L175.3 494.7 L174.3 494.8 L173.3 494.9 L172.3 494.9 L171.3 495.0 L170.2 495.1 L169.2 495.2 L168.2 495.2 L167.2 495.3 L166.2 495.4 L165.1 495.4 L164.1 495.5 L163.1 495.6 L162.1 495.6 L161.1 495.7 L160.1 495.8 L159.0 495.9 L158.0 495.9 L157.0 496.0 L156.0 496.1 L155.0 496.2"/>
<path class="c" d="M160.66 492.18 L155.00 496.20 L161.29 499.15"/>
<path class="c" d="M251.5 435.0 L252.5 434.9 L253.6 434.7 L254.6 434.6 L255.7 434.4 L256.7 434.2 L257.7 434.0 L258.8 433.8 L259.8 433.5 L260.8 433.2 L261.8 432.9 L262.8 432.6 L263.7 432.2 L264.7 431.8 L265.6 431.4 L266.5 431.0 L267.4 430.5 L268.2 430.0 L269.0 429.4 L269.8 428.9 L270.6 428.3 L271.4 427.6 L272.1 426.9 L272.8 426.2 L273.5 425.5 L274.1 424.7 L274.7 424.0 L275.3 423.1 L275.9 422.3 L276.5 421.5 L277.0 420.6 L277.6 419.8 L278.2 418.9 L278.7 418.1 L279.3 417.2 L279.9 416.4 L280.5 415.6 L281.1 414.8 L281.8 414.0 L282.4 413.2 L283.1 412.5 L283.9 411.8 L284.6 411.1 L285.4 410.5 L286.2 409.9 L287.0 409.3 L287.8 408.8 L288.7 408.3 L289.6 407.8 L290.5 407.4 L291.4 407.0 L292.3 406.6 L293.3 406.3 L294.2 406.0 L295.2 405.7 L296.2 405.5 L297.2 405.3 L298.2 405.1 L299.3 405.0 L300.3 405.0 L301.4 404.9 L302.4 404.9 L303.5 405.0 L304.6 405.1"/>
<path class="c" d="M298.25 407.92 L304.60 405.10 L299.02 400.96"/>
<path class="c" d="M62.40 171.20 L62.40 236.80" style="stroke-width:1.5"/>
<path class="c" d="M58.90 230.80 L62.40 236.80 L65.90 230.80"/>
<path class="c" d="M65.90 177.20 L62.40 171.20 L58.90 177.20"/>
<text class="l" transform="translate(188.30 59.30) rotate(9.0)" textLength="65.0" lengthAdjust="spacingAndGlyphs">Creating Composites</text>
<text class="l" transform="translate(321.80 100.50) rotate(-43.0)" textLength="49.0" lengthAdjust="spacingAndGlyphs">Enum  children's</text>
<text class="l" transform="translate(423.60 49.70) rotate(5.0)" textLength="47.5" lengthAdjust="spacingAndGlyphs">Saving state of</text>
<text class="l" transform="translate(413.00 58.20) rotate(5.0)" textLength="26.5" lengthAdjust="spacingAndGlyphs">iteration</text>
<text class="l" transform="translate(394.40 124.40) rotate(1.0)" textLength="53.7" lengthAdjust="spacingAndGlyphs">Composed using</text>
<text class="l" transform="translate(469.30 184.60) rotate(23.0)" textLength="44.5" lengthAdjust="spacingAndGlyphs">Defining chain</text>
<text class="l" transform="translate(332.80 203.50) rotate(13.0)" textLength="21.3" lengthAdjust="spacingAndGlyphs">Adding</text>
<text class="l" transform="translate(336.20 213.90) rotate(11.0)" textLength="32.7" lengthAdjust="spacingAndGlyphs">operations</text>
<text class="l" transform="translate(294.20 226.30) rotate(61.0)" textLength="26.5" lengthAdjust="spacingAndGlyphs">Defining</text>
<text class="l" transform="translate(285.60 232.60) rotate(61.0)" textLength="28.8" lengthAdjust="spacingAndGlyphs">grammars</text>
<text class="l" transform="translate(384.00 256.70) rotate(-35.0)" textLength="21.0" lengthAdjust="spacingAndGlyphs">Adding</text>
<text class="l" transform="translate(395.30 262.80) rotate(-35.0)" textLength="32.0" lengthAdjust="spacingAndGlyphs">operations</text>
<text class="l" transform="translate(211.00 163.75) rotate(-32.0)" textLength="23.0" lengthAdjust="spacingAndGlyphs">Sharing</text>
<text class="l" transform="translate(220.70 169.40) rotate(-32.0)" textLength="32.0" lengthAdjust="spacingAndGlyphs">composite</text>
<text class="l" transform="translate(134.60 249.40) rotate(-13.0)" textLength="56.3" lengthAdjust="spacingAndGlyphs">Sharing  strategies</text>
<text class="l" transform="translate(167.80 267.80) rotate(-66.0)" textLength="46.0" lengthAdjust="spacingAndGlyphs">Sharing  states</text>
<text class="l" transform="translate(102.30 323.50) rotate(45.0)" textLength="21.0" lengthAdjust="spacingAndGlyphs">Defines</text>
<text class="l" transform="translate(103.10 337.50) rotate(42.0)" textLength="42.5" lengthAdjust="spacingAndGlyphs">algorithm step</text>
<text class="l" transform="translate(318.80 359.60) rotate(27.0)" textLength="33.0" lengthAdjust="spacingAndGlyphs">Often uses</text>
<text class="l" transform="translate(156.50 405.50) rotate(-24.0)" textLength="36.5" lengthAdjust="spacingAndGlyphs">Configuring</text>
<text class="l" transform="translate(153.50 417.20) rotate(-24.0)" textLength="22.0" lengthAdjust="spacingAndGlyphs">factory</text>
<text class="l" transform="translate(122.50 447.50) rotate(-55.0)" textLength="47.0" lengthAdjust="spacingAndGlyphs">Single Instance</text>
<text class="l" transform="translate(203.50 484.80) rotate(-15.0)" textLength="47.0" lengthAdjust="spacingAndGlyphs">Single Instance</text>
<text class="l" transform="translate(261.00 401.50) rotate(-26.0)" textLength="40.0" lengthAdjust="spacingAndGlyphs">Implemented</text>
<text class="l" transform="translate(255.00 415.20) rotate(-27.0)" textLength="16.5" lengthAdjust="spacingAndGlyphs">using</text>
<path class="c" d="M560.8 450.6 Q567.6 450.6 567.6 454.5 L567.6 475.5 Q567.6 478.3 573.6 478.3 Q567.6 478.3 567.6 481 L567.6 501 Q567.6 505.2 560.8 505.2" style="stroke:#4a5b7a;stroke-width:1.1"/>
<rect class="g" x="25.50" y="30.90" width="85.00" height="17.70" rx="3" ry="3"/>
<text class="bt" transform="translate(68.40 42.90) scale(1.00 1)" textLength="32.0" lengthAdjust="spacing">Builder</text>
<rect class="p" x="324.10" y="43.60" width="60.30" height="17.00" rx="3" ry="3"/>
<text class="bt" transform="translate(354.30 56.00) scale(1.00 1)" textLength="33.2" lengthAdjust="spacing">Iterator</text>
<rect class="p" x="464.00" y="74.10" width="59.90" height="16.50" rx="3" ry="3"/>
<text class="bt" transform="translate(494.40 85.50) scale(1.00 1)" textLength="43.8" lengthAdjust="spacing">Memento</text>
<rect class="p" x="439.75" y="116.50" width="60.50" height="16.75" rx="3" ry="3"/>
<text class="bt" transform="translate(470.10 128.50) scale(1.00 1)" textLength="43.8" lengthAdjust="spacing">Command</text>
<rect class="u" x="232.90" y="140.80" width="60.40" height="16.90" rx="3" ry="3"/>
<text class="bt" transform="translate(263.05 153.20) scale(1.00 1)" textLength="43.9" lengthAdjust="spacing">Composite</text>
<rect class="u" x="32.00" y="152.75" width="60.60" height="17.50" rx="3" ry="3"/>
<text class="bt" transform="translate(62.50 164.90) scale(1.00 1)" textLength="43.8" lengthAdjust="spacing">Decorator</text>
<rect class="u" x="147.75" y="201.75" width="60.50" height="17.55" rx="3" ry="3"/>
<text class="bt" transform="translate(177.80 213.50) scale(1.00 1)" textLength="41.9" lengthAdjust="spacing">Flyweight</text>
<rect class="p" x="384.75" y="207.75" width="60.85" height="17.25" rx="3" ry="3"/>
<text class="bt" transform="translate(415.20 219.90) scale(1.00 1)" textLength="28.1" lengthAdjust="spacing">Visitor</text>
<rect class="p" x="476.40" y="213.80" width="72.60" height="16.90" rx="3" ry="3"/>
<text class="bt" transform="translate(512.90 226.00) scale(1.00 1)" textLength="56.2" lengthAdjust="spacing">Chan of Resp</text>
<rect class="p" x="31.75" y="237.75" width="60.85" height="17.50" rx="3" ry="3"/>
<text class="bt" transform="translate(62.50 250.10) scale(1.00 1)" textLength="35.0" lengthAdjust="spacing">strategy</text>
<rect class="p" x="263.40" y="268.75" width="65.85" height="17.25" rx="3" ry="3"/>
<text class="bt" transform="translate(296.50 280.90) scale(1.00 1)" textLength="47.8" lengthAdjust="spacing">Interpreter</text>
<rect class="p" x="123.50" y="293.00" width="59.75" height="17.00" rx="3" ry="3"/>
<text class="bt" transform="translate(152.50 305.00) scale(1.00 1)" textLength="22.5" lengthAdjust="spacing">State</text>
<rect class="p" x="184.20" y="353.70" width="90.80" height="17.40" rx="3" ry="3"/>
<text class="bt" transform="translate(230.00 365.90) scale(1.00 1)" textLength="74.8" lengthAdjust="spacing">Template Method</text>
<rect class="g" x="50.40" y="378.00" width="84.50" height="17.70" rx="3" ry="3"/>
<text class="bt" transform="translate(92.05 390.00) scale(1.00 1)" textLength="43.0" lengthAdjust="spacing">Prototype</text>
<rect class="g" x="305.50" y="396.50" width="85.00" height="17.20" rx="3" ry="3"/>
<text class="bt" transform="translate(348.40 408.75) scale(1.00 1)" textLength="68.0" lengthAdjust="spacing">Factory Method</text>
<rect class="g" x="165.50" y="427.00" width="85.00" height="16.90" rx="3" ry="3"/>
<text class="bt" transform="translate(209.00 439.00) scale(1.00 1)" textLength="69.2" lengthAdjust="spacing">Abstract Factory</text>
<rect class="g" x="68.75" y="488.00" width="84.15" height="16.90" rx="3" ry="3"/>
<text class="bt" transform="translate(110.60 500.00) scale(1.00 1)" textLength="40.3" lengthAdjust="spacing">Singleton</text>
<rect class="u" x="251.00" y="475.80" width="60.20" height="16.90" rx="3" ry="3"/>
<text class="bt" transform="translate(280.80 487.60) scale(1.00 1)" textLength="30.9" lengthAdjust="spacing">Façade</text>
<rect class="g" x="439.75" y="451.20" width="109.05" height="17.20" rx="3" ry="3"/>
<text class="bt" transform="translate(494.00 463.25) scale(1.00 1)" textLength="45.0" lengthAdjust="spacing">Creational</text>
<rect class="u" x="439.75" y="469.90" width="109.05" height="16.50" rx="3" ry="3"/>
<text class="bt" transform="translate(493.70 481.60) scale(1.00 1)" textLength="42.6" lengthAdjust="spacing">Structural</text>
<rect class="p" x="439.75" y="488.10" width="109.05" height="16.50" rx="3" ry="3"/>
<text class="bt" transform="translate(494.45 499.80) scale(1.00 1)" textLength="45.9" lengthAdjust="spacing">Behavioral</text>
<rect x="579.4" y="467.2" width="53.6" height="19" style="fill:#fff;stroke:#4068ab;stroke-width:1.7"/>
<text class="bt" transform="translate(605.5 480.5) scale(0.88 1)" textLength="41.4" lengthAdjust="spacing">Patterns</text>
</svg>
</body></html>
